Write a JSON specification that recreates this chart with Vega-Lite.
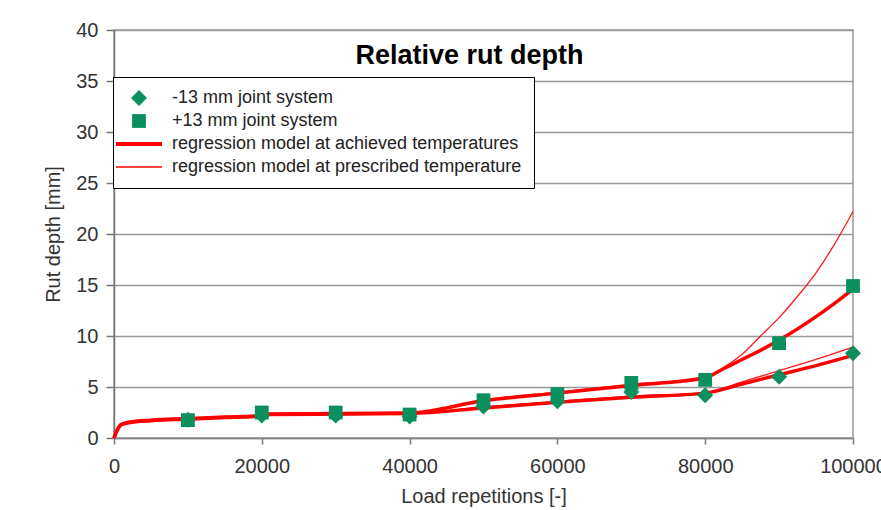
{
  "$schema": "https://vega.github.io/schema/vega-lite/v6.json",
  "width": 739,
  "height": 408,
  "autosize": {"type": "none"},
  "padding": {"left": 114, "top": 30, "right": 28, "bottom": 72},
  "background": "white",
  "title": {
    "text": "Relative rut depth",
    "font": "Liberation Sans",
    "fontSize": 27,
    "fontWeight": "bold",
    "color": "#000000",
    "anchor": "middle",
    "dx": -14,
    "offset": -71,
    "baseline": "alphabetic"
  },
  "config": {
    "font": "Liberation Sans",
    "view": {"stroke": "#999999", "strokeWidth": 1.5},
    "axis": {
      "labelFont": "Liberation Sans",
      "titleFont": "Liberation Sans",
      "labelFontSize": 20,
      "titleFontSize": 20,
      "titleFontWeight": "normal",
      "labelColor": "#333333",
      "titleColor": "#333333"
    },
    "legend": {
      "orient": "none",
      "legendX": -1,
      "legendY": 47,
      "direction": "vertical",
      "padding": 12,
      "strokeColor": "#000000",
      "fillColor": "#ffffff",
      "labelFont": "Liberation Sans",
      "labelFontSize": 18,
      "labelColor": "#222222",
      "labelLimit": 0,
      "rowPadding": 5,
      "symbolOffset": 5,
      "labelOffset": 24,
      "symbolStrokeColor": "#ff0000",
      "symbolOpacity": 1
    }
  },
  "datasets": {
    "points": [
      {"x": 10000, "y": 1.8, "series": "-13 mm joint system"},
      {"x": 20000, "y": 2.2, "series": "-13 mm joint system"},
      {"x": 30000, "y": 2.2, "series": "-13 mm joint system"},
      {"x": 40000, "y": 2.1, "series": "-13 mm joint system"},
      {"x": 50000, "y": 3.1, "series": "-13 mm joint system"},
      {"x": 60000, "y": 3.6, "series": "-13 mm joint system"},
      {"x": 70000, "y": 4.5, "series": "-13 mm joint system"},
      {"x": 80000, "y": 4.2, "series": "-13 mm joint system"},
      {"x": 90000, "y": 6.0, "series": "-13 mm joint system"},
      {"x": 100000, "y": 8.3, "series": "-13 mm joint system"},
      {"x": 10000, "y": 1.75, "series": "+13 mm joint system"},
      {"x": 20000, "y": 2.5, "series": "+13 mm joint system"},
      {"x": 30000, "y": 2.5, "series": "+13 mm joint system"},
      {"x": 40000, "y": 2.3, "series": "+13 mm joint system"},
      {"x": 50000, "y": 3.7, "series": "+13 mm joint system"},
      {"x": 60000, "y": 4.3, "series": "+13 mm joint system"},
      {"x": 70000, "y": 5.4, "series": "+13 mm joint system"},
      {"x": 80000, "y": 5.7, "series": "+13 mm joint system"},
      {"x": 90000, "y": 9.3, "series": "+13 mm joint system"},
      {"x": 100000, "y": 14.9, "series": "+13 mm joint system"}
    ],
    "lines": [
      {"x": 0, "y": 0, "series": "regression model at achieved temperatures", "system": "plus"},
      {"x": 300, "y": 0.6, "series": "regression model at achieved temperatures", "system": "plus"},
      {"x": 1000, "y": 1.35, "series": "regression model at achieved temperatures", "system": "plus"},
      {"x": 2000, "y": 1.55, "series": "regression model at achieved temperatures", "system": "plus"},
      {"x": 5000, "y": 1.75, "series": "regression model at achieved temperatures", "system": "plus"},
      {"x": 10000, "y": 1.9, "series": "regression model at achieved temperatures", "system": "plus"},
      {"x": 15000, "y": 2.05, "series": "regression model at achieved temperatures", "system": "plus"},
      {"x": 19000, "y": 2.15, "series": "regression model at achieved temperatures", "system": "plus"},
      {"x": 21000, "y": 2.35, "series": "regression model at achieved temperatures", "system": "plus"},
      {"x": 30000, "y": 2.4, "series": "regression model at achieved temperatures", "system": "plus"},
      {"x": 40000, "y": 2.45, "series": "regression model at achieved temperatures", "system": "plus"},
      {"x": 50000, "y": 3.65, "series": "regression model at achieved temperatures", "system": "plus"},
      {"x": 60000, "y": 4.4, "series": "regression model at achieved temperatures", "system": "plus"},
      {"x": 70000, "y": 5.15, "series": "regression model at achieved temperatures", "system": "plus"},
      {"x": 80000, "y": 5.9, "series": "regression model at achieved temperatures", "system": "plus"},
      {"x": 82500, "y": 6.8, "series": "regression model at achieved temperatures", "system": "plus"},
      {"x": 85000, "y": 7.7, "series": "regression model at achieved temperatures", "system": "plus"},
      {"x": 87500, "y": 8.6, "series": "regression model at achieved temperatures", "system": "plus"},
      {"x": 90000, "y": 9.6, "series": "regression model at achieved temperatures", "system": "plus"},
      {"x": 92500, "y": 10.7, "series": "regression model at achieved temperatures", "system": "plus"},
      {"x": 95000, "y": 11.9, "series": "regression model at achieved temperatures", "system": "plus"},
      {"x": 97500, "y": 13.2, "series": "regression model at achieved temperatures", "system": "plus"},
      {"x": 100000, "y": 14.6, "series": "regression model at achieved temperatures", "system": "plus"},
      {"x": 0, "y": 0, "series": "regression model at achieved temperatures", "system": "minus"},
      {"x": 300, "y": 0.55, "series": "regression model at achieved temperatures", "system": "minus"},
      {"x": 1000, "y": 1.3, "series": "regression model at achieved temperatures", "system": "minus"},
      {"x": 2000, "y": 1.5, "series": "regression model at achieved temperatures", "system": "minus"},
      {"x": 5000, "y": 1.7, "series": "regression model at achieved temperatures", "system": "minus"},
      {"x": 10000, "y": 1.85, "series": "regression model at achieved temperatures", "system": "minus"},
      {"x": 15000, "y": 2.0, "series": "regression model at achieved temperatures", "system": "minus"},
      {"x": 19000, "y": 2.1, "series": "regression model at achieved temperatures", "system": "minus"},
      {"x": 21000, "y": 2.3, "series": "regression model at achieved temperatures", "system": "minus"},
      {"x": 30000, "y": 2.35, "series": "regression model at achieved temperatures", "system": "minus"},
      {"x": 40000, "y": 2.4, "series": "regression model at achieved temperatures", "system": "minus"},
      {"x": 50000, "y": 2.95, "series": "regression model at achieved temperatures", "system": "minus"},
      {"x": 60000, "y": 3.5, "series": "regression model at achieved temperatures", "system": "minus"},
      {"x": 70000, "y": 4.0, "series": "regression model at achieved temperatures", "system": "minus"},
      {"x": 80000, "y": 4.4, "series": "regression model at achieved temperatures", "system": "minus"},
      {"x": 85000, "y": 5.3, "series": "regression model at achieved temperatures", "system": "minus"},
      {"x": 90000, "y": 6.2, "series": "regression model at achieved temperatures", "system": "minus"},
      {"x": 95000, "y": 7.1, "series": "regression model at achieved temperatures", "system": "minus"},
      {"x": 100000, "y": 8.1, "series": "regression model at achieved temperatures", "system": "minus"},
      {"x": 0, "y": 0, "series": "regression model at prescribed temperature", "system": "plus"},
      {"x": 300, "y": 0.6, "series": "regression model at prescribed temperature", "system": "plus"},
      {"x": 1000, "y": 1.35, "series": "regression model at prescribed temperature", "system": "plus"},
      {"x": 2000, "y": 1.55, "series": "regression model at prescribed temperature", "system": "plus"},
      {"x": 5000, "y": 1.75, "series": "regression model at prescribed temperature", "system": "plus"},
      {"x": 10000, "y": 1.9, "series": "regression model at prescribed temperature", "system": "plus"},
      {"x": 15000, "y": 2.05, "series": "regression model at prescribed temperature", "system": "plus"},
      {"x": 19000, "y": 2.15, "series": "regression model at prescribed temperature", "system": "plus"},
      {"x": 21000, "y": 2.35, "series": "regression model at prescribed temperature", "system": "plus"},
      {"x": 30000, "y": 2.4, "series": "regression model at prescribed temperature", "system": "plus"},
      {"x": 40000, "y": 2.45, "series": "regression model at prescribed temperature", "system": "plus"},
      {"x": 50000, "y": 3.75, "series": "regression model at prescribed temperature", "system": "plus"},
      {"x": 60000, "y": 4.5, "series": "regression model at prescribed temperature", "system": "plus"},
      {"x": 70000, "y": 5.25, "series": "regression model at prescribed temperature", "system": "plus"},
      {"x": 80000, "y": 5.95, "series": "regression model at prescribed temperature", "system": "plus"},
      {"x": 82500, "y": 6.9, "series": "regression model at prescribed temperature", "system": "plus"},
      {"x": 85000, "y": 8.2, "series": "regression model at prescribed temperature", "system": "plus"},
      {"x": 87500, "y": 10.0, "series": "regression model at prescribed temperature", "system": "plus"},
      {"x": 90000, "y": 11.8, "series": "regression model at prescribed temperature", "system": "plus"},
      {"x": 92500, "y": 13.9, "series": "regression model at prescribed temperature", "system": "plus"},
      {"x": 95000, "y": 16.2, "series": "regression model at prescribed temperature", "system": "plus"},
      {"x": 97500, "y": 19.0, "series": "regression model at prescribed temperature", "system": "plus"},
      {"x": 100000, "y": 22.2, "series": "regression model at prescribed temperature", "system": "plus"},
      {"x": 0, "y": 0, "series": "regression model at prescribed temperature", "system": "minus"},
      {"x": 300, "y": 0.55, "series": "regression model at prescribed temperature", "system": "minus"},
      {"x": 1000, "y": 1.3, "series": "regression model at prescribed temperature", "system": "minus"},
      {"x": 2000, "y": 1.5, "series": "regression model at prescribed temperature", "system": "minus"},
      {"x": 5000, "y": 1.7, "series": "regression model at prescribed temperature", "system": "minus"},
      {"x": 10000, "y": 1.85, "series": "regression model at prescribed temperature", "system": "minus"},
      {"x": 15000, "y": 2.0, "series": "regression model at prescribed temperature", "system": "minus"},
      {"x": 19000, "y": 2.1, "series": "regression model at prescribed temperature", "system": "minus"},
      {"x": 21000, "y": 2.3, "series": "regression model at prescribed temperature", "system": "minus"},
      {"x": 30000, "y": 2.35, "series": "regression model at prescribed temperature", "system": "minus"},
      {"x": 40000, "y": 2.42, "series": "regression model at prescribed temperature", "system": "minus"},
      {"x": 50000, "y": 3.05, "series": "regression model at prescribed temperature", "system": "minus"},
      {"x": 60000, "y": 3.6, "series": "regression model at prescribed temperature", "system": "minus"},
      {"x": 70000, "y": 4.1, "series": "regression model at prescribed temperature", "system": "minus"},
      {"x": 80000, "y": 4.45, "series": "regression model at prescribed temperature", "system": "minus"},
      {"x": 85000, "y": 5.5, "series": "regression model at prescribed temperature", "system": "minus"},
      {"x": 90000, "y": 6.6, "series": "regression model at prescribed temperature", "system": "minus"},
      {"x": 95000, "y": 7.7, "series": "regression model at prescribed temperature", "system": "minus"},
      {"x": 100000, "y": 8.9, "series": "regression model at prescribed temperature", "system": "minus"}
    ]
  },
  "encoding": {
    "x": {
      "field": "x",
      "type": "quantitative",
      "scale": {"domain": [0, 100000], "nice": false},
      "axis": {
        "title": "Load repetitions [-]",
        "values": [0, 20000, 40000, 60000, 80000, 100000],
        "format": "d",
        "grid": false,
        "labelFlush": false,
        "labelOverlap": false,
        "labelBound": false,
        "tickSize": 6,
        "tickColor": "#777777",
        "tickWidth": 1.5,
        "domainColor": "#888888",
        "domainWidth": 1.5,
        "labelPadding": 12,
        "titlePadding": 10
      }
    },
    "y": {
      "field": "y",
      "type": "quantitative",
      "scale": {"domain": [0, 40], "nice": false},
      "axis": {
        "title": "Rut depth [mm]",
        "values": [0, 5, 10, 15, 20, 25, 30, 35, 40],
        "grid": true,
        "gridColor": "#999999",
        "gridWidth": 1.5,
        "tickSize": 8,
        "tickColor": "#777777",
        "tickWidth": 1.5,
        "domainColor": "#777777",
        "domainWidth": 1.5,
        "labelPadding": 8,
        "titlePadding": 12
      }
    }
  },
  "layer": [
    {
      "data": {"name": "lines"},
      "transform": [{"filter": "datum.series === 'regression model at prescribed temperature'"}],
      "mark": {"type": "line", "interpolate": "monotone", "strokeWidth": 1.3, "opacity": 0.9, "color": "#ff0000"},
      "encoding": {
        "detail": {"field": "system", "type": "nominal"}
      }
    },
    {
      "data": {"name": "lines"},
      "transform": [{"filter": "datum.series === 'regression model at achieved temperatures'"}],
      "mark": {"type": "line", "interpolate": "monotone", "strokeWidth": 3.5, "color": "#ff0000"},
      "encoding": {
        "detail": {"field": "system", "type": "nominal"}
      }
    },
    {
      "data": {"name": "points"},
      "mark": {"type": "point", "filled": true, "opacity": 1},
      "encoding": {
        "color": {
          "field": "series",
          "type": "nominal",
          "scale": {
            "domain": ["-13 mm joint system", "+13 mm joint system", "regression model at achieved temperatures", "regression model at prescribed temperature"],
            "range": ["#0a8f5e", "#0a8f5e", "#ff0000", "#ff0000"]
          },
          "legend": {"title": null}
        },
        "stroke": {
          "field": "series",
          "type": "nominal",
          "scale": {
            "domain": ["-13 mm joint system", "+13 mm joint system", "regression model at achieved temperatures", "regression model at prescribed temperature"],
            "range": ["transparent", "transparent", "#ff0000", "#ff0000"]
          },
          "legend": {"title": null}
        },
        "shape": {
          "field": "series",
          "type": "nominal",
          "scale": {
            "domain": ["-13 mm joint system", "+13 mm joint system", "regression model at achieved temperatures", "regression model at prescribed temperature"],
            "range": ["diamond", "square", "M-4.6,0L4.6,0", "M-4.6,0L4.6,0"]
          },
          "legend": {"title": null}
        },
        "size": {
          "field": "series",
          "type": "nominal",
          "scale": {
            "type": "ordinal",
            "domain": ["-13 mm joint system", "+13 mm joint system", "regression model at achieved temperatures", "regression model at prescribed temperature"],
            "range": [256, 190, 100, 100]
          },
          "legend": {"title": null}
        },
        "strokeWidth": {
          "field": "series",
          "type": "nominal",
          "scale": {
            "type": "ordinal",
            "domain": ["-13 mm joint system", "+13 mm joint system", "regression model at achieved temperatures", "regression model at prescribed temperature"],
            "range": [0, 0, 4, 1.3]
          },
          "legend": {"title": null}
        }
      }
    }
  ]
}
